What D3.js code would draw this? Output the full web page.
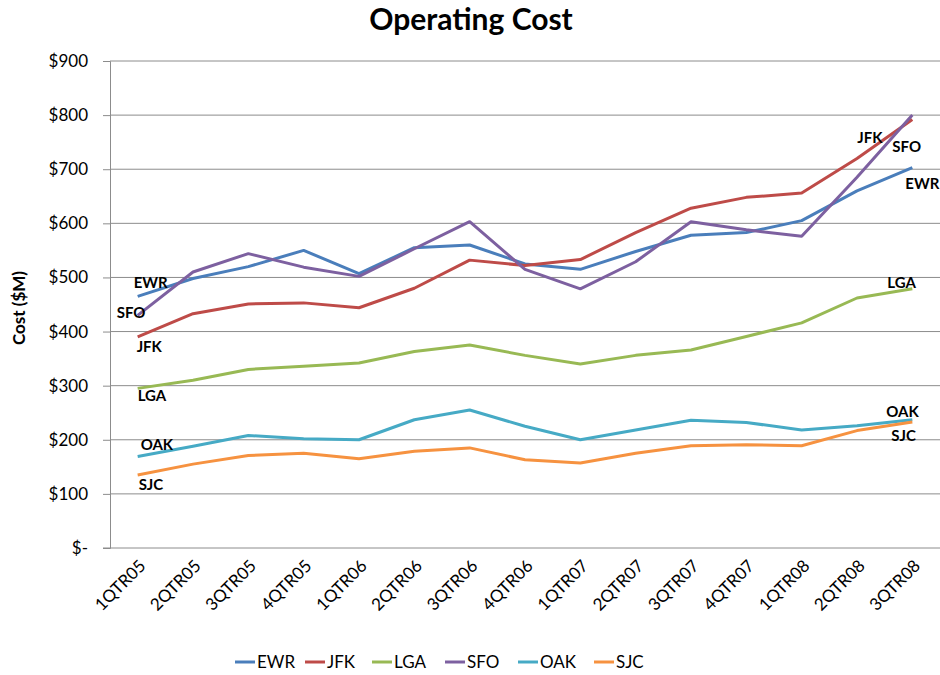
<!DOCTYPE html>
<html>
<head>
<meta charset="utf-8">
<script src="https://cdn.jsdelivr.net/npm/d3@7"></script>
<style>
  body { margin: 0; background: #fff; }
  text { font-family: Lato, "Open Sans", sans-serif; }
</style>
</head>
<body>
<div id="chart"></div>
<script>
var quarters = ["1QTR05", "2QTR05", "3QTR05", "4QTR05", "1QTR06", "2QTR06", "3QTR06", "4QTR06",
    "1QTR07", "2QTR07", "3QTR07", "4QTR07", "1QTR08", "2QTR08", "3QTR08"];

var ewr = [465, 498, 520, 550, 507, 555, 560, 525, 515, 548, 578, 583, 605, 660, 703];
var jfk = [390, 433, 451, 453, 444, 480, 532, 522, 533, 583, 628, 648, 656, 720, 792];
var lga = [295, 310, 330, 336, 342, 363, 375, 356, 340, 356, 366, 391, 416, 462, 479];
var sfo = [430, 510, 544, 519, 502, 553, 603, 515, 479, 529, 603, 588, 576, 685, 800];
var oak = [169, 188, 208, 202, 200, 237, 255, 225, 200, 218, 236, 232, 218, 226, 237];
var sjc = [135, 155, 171, 175, 165, 179, 185, 163, 157, 175, 189, 191, 189, 217, 233];

var yTicks = [0, 100, 200, 300, 400, 500, 600, 700, 800, 900];

// label offsets (dx, dy) from the first / last point of each line
var series = [
    { name: "EWR", values: ewr, color: "#4a7ebb", first: [-4, -8], last: [-7, 21] },
    { name: "JFK", values: jfk, color: "#be4b48", first: [-1, 15], last: [-55, 24] },
    { name: "LGA", values: lga, color: "#98b954", first: [0, 13], last: [-25, -1] },
    { name: "SFO", values: sfo, color: "#7d60a0", first: [-21, 3], last: [-20, 37] },
    { name: "OAK", values: oak, color: "#46aac5", first: [3, -7], last: [-26, -3] },
    { name: "SJC", values: sjc, color: "#f69240", first: [1, 15], last: [-21, 19] }
];

var width = 940, height = 675;
var plot = { left: 110, right: 940, top: 61, bottom: 548 };

var svg = d3.select("#chart").append("svg")
    .attr("width", width)
    .attr("height", height);

var x = d3.scalePoint()
    .domain(quarters)
    .range([plot.left, plot.right])
    .padding(0.5);

var y = d3.scaleLinear()
    .domain([0, 900])
    .range([plot.bottom, plot.top]);

// Title
svg.append("text")
    .attr("x", 471)
    .attr("y", 30)
    .attr("text-anchor", "middle")
    .attr("font-size", 30)
    .attr("font-weight", "bold")
    .text("Operating Cost");

// Gridlines
svg.append("g")
    .selectAll("line")
    .data(yTicks.filter(d => d > 0))
    .enter()
    .append("line")
    .attr("x1", plot.left)
    .attr("x2", plot.right)
    .attr("y1", d => y(d))
    .attr("y2", d => y(d))
    .attr("stroke", "#8c8c8c")
    .attr("stroke-width", 1);

// Y axis
var yAxis = svg.append("g")
    .attr("transform", "translate(" + plot.left + ",0)")
    .call(d3.axisLeft(y)
        .tickValues(yTicks)
        .tickSize(7)
        .tickPadding(15)
        .tickFormat(d => d === 0 ? "$-" : "$" + d));
yAxis.select(".domain").attr("stroke", "#8c8c8c");
yAxis.selectAll(".tick line").attr("stroke", "#8c8c8c");
yAxis.selectAll(".tick text")
    .attr("font-size", 17)
    .attr("fill", "#000")
    .style("font-family", "Lato, 'Open Sans', sans-serif");

// X axis baseline
svg.append("line")
    .attr("x1", plot.left - 7)
    .attr("x2", plot.right)
    .attr("y1", plot.bottom)
    .attr("y2", plot.bottom)
    .attr("stroke", "#8c8c8c");

// X labels, rotated
svg.append("g")
    .selectAll("text")
    .data(quarters)
    .enter()
    .append("text")
    .attr("transform", d => "translate(" + (x(d) + 9) + "," + (plot.bottom + 19) + ") rotate(-45)")
    .attr("text-anchor", "end")
    .attr("font-size", 17)
    .text(d => d);

// Y axis title
svg.append("text")
    .attr("transform", "translate(25,308) rotate(-90)")
    .attr("text-anchor", "middle")
    .attr("font-size", 17)
    .attr("font-weight", "bold")
    .text("Cost ($M)");

// Lines
var line = d3.line()
    .x((d, i) => x(quarters[i]))
    .y(d => y(d));

svg.append("g")
    .selectAll("path")
    .data(series)
    .enter()
    .append("path")
    .attr("d", d => line(d.values))
    .attr("fill", "none")
    .attr("stroke", d => d.color)
    .attr("stroke-width", 3)
    .attr("stroke-linejoin", "round");

// Series labels at start and end
var n = quarters.length - 1;
var labels = svg.append("g").attr("font-size", 15).attr("font-weight", "bold");
series.forEach(s => {
    labels.append("text")
        .attr("x", x(quarters[0]) + s.first[0])
        .attr("y", y(s.values[0]) + s.first[1])
        .text(s.name);
    labels.append("text")
        .attr("x", x(quarters[n]) + s.last[0])
        .attr("y", y(s.values[n]) + s.last[1])
        .text(s.name);
});

// Legend
var legend = svg.append("g").attr("transform", "translate(235,662)");
var legendX = [0, 70, 137, 210, 283, 359];
series.forEach((s, i) => {
    var g = legend.append("g").attr("transform", "translate(" + legendX[i] + ",0)");
    g.append("line")
        .attr("x1", 0).attr("x2", 20)
        .attr("y1", 0).attr("y2", 0)
        .attr("stroke", s.color)
        .attr("stroke-width", 3);
    g.append("text")
        .attr("x", 22)
        .attr("y", 6)
        .attr("font-size", 17)
        .text(s.name);
});
</script>
</body>
</html>
